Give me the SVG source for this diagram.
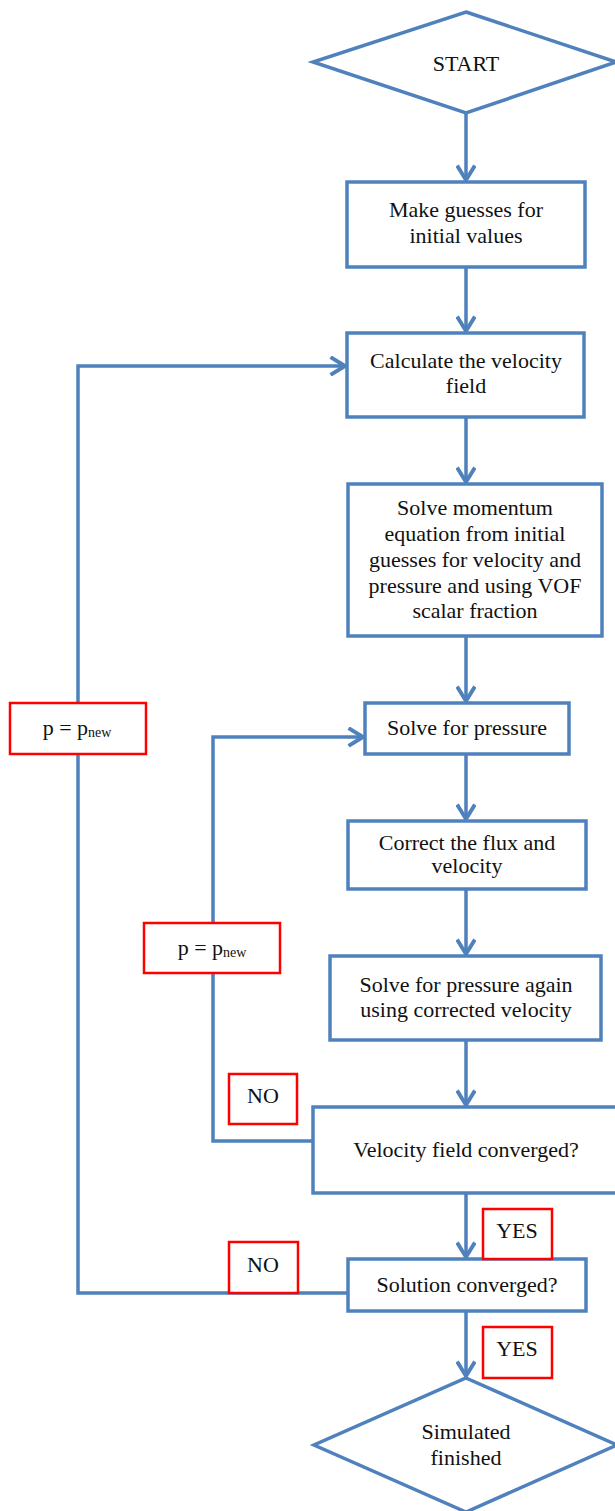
<svg xmlns="http://www.w3.org/2000/svg" width="615" height="1511" viewBox="0 0 615 1511">
<style>
.n{fill:#fff;stroke:#4F81BD;stroke-width:3.5}
.l{fill:#fff;stroke:#FF0000;stroke-width:2.5}
.c{fill:none;stroke:#4F81BD;stroke-width:3.5}
text{font-family:"Liberation Serif","Times New Roman",serif;font-size:22px;fill:#111;text-anchor:middle}
.s{font-size:14px}
</style>
<defs>
<marker id="a" markerUnits="userSpaceOnUse" markerWidth="20" markerHeight="20" viewBox="-1 -1 16 18" refX="13" refY="8" orient="auto">
<path d="M0,0 L13,8 L0,16" fill="none" stroke="#4F81BD" stroke-width="3.5"/>
</marker>
</defs>
<rect width="615" height="1511" fill="#fff"/>
<g id="connectors">
<path class="c" d="M466,113 V180" marker-end="url(#a)"/>
<path class="c" d="M466,267 V331" marker-end="url(#a)"/>
<path class="c" d="M466,417 V482" marker-end="url(#a)"/>
<path class="c" d="M466,636 V701" marker-end="url(#a)"/>
<path class="c" d="M466,754 V819" marker-end="url(#a)"/>
<path class="c" d="M466,889 V954" marker-end="url(#a)"/>
<path class="c" d="M466,1040 V1105" marker-end="url(#a)"/>
<path class="c" d="M466,1193 V1257" marker-end="url(#a)"/>
<path class="c" d="M466,1311 V1376" marker-end="url(#a)"/>
<path class="c" d="M348,1293 H78 V366 H345" marker-end="url(#a)"/>
<path class="c" d="M313,1141 H213 V737 H363" marker-end="url(#a)"/>
</g>
<g id="start"><polygon class="n" points="466,12 616,62 466,113 313,62"/><text x="466" y="71">START</text></g>
<g id="guess"><rect class="n" x="347" y="182" width="238" height="85"/><text x="466" y="217">Make guesses for</text><text x="466" y="243">initial values</text></g>
<g id="velocity"><rect class="n" x="347" y="333" width="237" height="84"/><text x="466" y="368">Calculate the velocity</text><text x="466" y="393">field</text></g>
<g id="momentum"><rect class="n" x="348" y="484" width="254" height="152"/><text x="475" y="515">Solve momentum</text><text x="475" y="541">equation from initial</text><text x="475" y="567">guesses for velocity and</text><text x="475" y="593">pressure and using VOF</text><text x="475" y="618">scalar fraction</text></g>
<g id="pressure"><rect class="n" x="365" y="703" width="204" height="51"/><text x="467" y="735">Solve for pressure</text></g>
<g id="correct"><rect class="n" x="348" y="821" width="238" height="68"/><text x="467" y="850">Correct the flux and</text><text x="467" y="873">velocity</text></g>
<g id="again"><rect class="n" x="330" y="956" width="271" height="84"/><text x="466" y="992">Solve for pressure again</text><text x="466" y="1017">using corrected velocity</text></g>
<g id="vconv"><rect class="n" x="313" y="1107" width="310" height="86"/><text x="466" y="1157">Velocity field converged?</text></g>
<g id="sconv"><rect class="n" x="348" y="1259" width="238" height="52"/><text x="467" y="1292">Solution converged?</text></g>
<g id="end"><polygon class="n" points="466,1378 617,1445 466,1512 314,1445"/><text x="466" y="1439">Simulated</text><text x="466" y="1465">finished</text></g>
<g id="pnew1"><rect class="l" x="10" y="703" width="136" height="51"/><text x="77" y="735">p = p<tspan class="s" dy="2">new</tspan></text></g>
<g id="pnew2"><rect class="l" x="144" y="923" width="136" height="50"/><text x="212" y="955">p = p<tspan class="s" dy="2">new</tspan></text></g>
<g id="no1"><rect class="l" x="229" y="1074" width="68" height="50"/><text x="263" y="1103">NO</text></g>
<g id="yes1"><rect class="l" x="483" y="1209" width="69" height="50"/><text x="517" y="1238">YES</text></g>
<g id="no2"><rect class="l" x="229" y="1242" width="69" height="51"/><text x="263" y="1272">NO</text></g>
<g id="yes2"><rect class="l" x="483" y="1327" width="69" height="51"/><text x="517" y="1356">YES</text></g>
</svg>
